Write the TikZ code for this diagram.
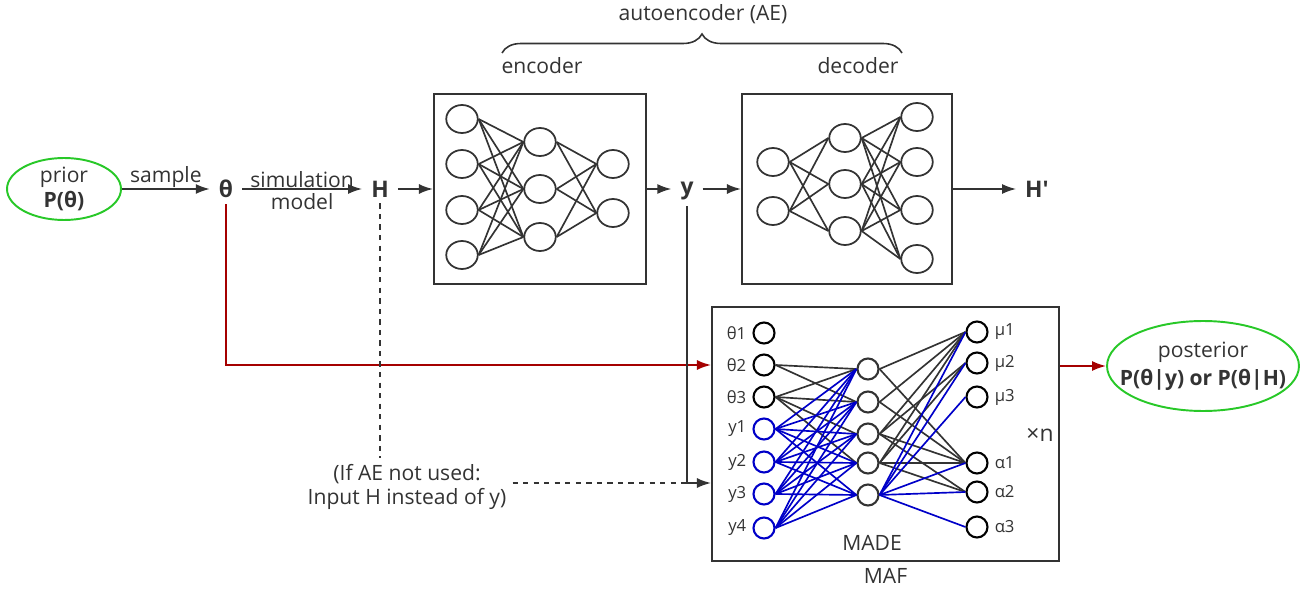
\documentclass[tikz,border=0pt]{standalone}
\usepackage{fontspec}
\setmainfont{Open Sans}
\usepackage{tikz}
\usetikzlibrary{decorations.pathreplacing}
\usetikzlibrary{shapes}
\usetikzlibrary{arrows.meta}
\usetikzlibrary{positioning}
\tikzset{>={Latex[length=2.8mm,width=2mm]}}
\definecolor{linegray}{RGB}{51,51,51}
\definecolor{madeblue}{RGB}{0,0,200}
\definecolor{distgreen}{RGB}{40,200,40}
\definecolor{condred}{RGB}{165,0,0}

\begin{document}
\begin{tikzpicture}[
    x=0.02cm, y=-0.02cm,
    every node/.style={text=linegray, font=\fontsize{12}{14}\selectfont},
    dist/.style={ellipse, draw=distgreen, line width=1.1pt, inner sep=0pt},
    var/.style={font=\fontsize{13}{15}\selectfont\bfseries, inner xsep=5pt},
    netbox/.style={rectangle, draw=linegray, line width=1.2pt},
    neuron/.style={ellipse, draw=linegray, line width=1pt,
        minimum width=0.63cm, minimum height=0.56cm, inner sep=0pt},
    unit/.style={circle, draw=black, line width=1.2pt, minimum size=0.42cm, inner sep=0pt},
    yunit/.style={unit, draw=madeblue},
    hunit/.style={unit, draw=linegray},
    lbl/.style={font=\fontsize{9.5}{11}\selectfont},
    flow/.style={->, draw=linegray, line width=1pt},
    wire/.style={draw=linegray, line width=0.95pt},
    bwire/.style={draw=madeblue, line width=0.95pt}
    ]
\useasboundingbox (0,0) rectangle (1308,591);

%prior and simulation
\node[dist, minimum width=2.28cm, minimum height=1.24cm] (prior) at (64,189) {};
\node[align=center] at (prior) {prior\\\textbf{P(θ)}};
\node[var] (theta) at (226,189) {θ};
\node[var] (H) at (380,189) {H};
\draw[flow] (prior.east) -- node[above, inner sep=0.5pt] {sample} (theta.west);
\draw[flow] (theta.east) -- node[above, inner sep=0.5pt] {simulation}
    node[below, inner sep=2pt] {model} (H.west);

%autoencoder
\coordinate (braceL) at (502,53);
\coordinate (braceR) at (902,53);
\draw[linegray, line width=0.9pt, decorate, decoration={brace, amplitude=0.38cm}] (braceL) -- (braceR);
\node at (703,14) {autoencoder (AE)};
\node at (542,66) {encoder};
\node at (858,66) {decoder};

\node[netbox, minimum width=4.24cm, minimum height=3.8cm] (enc) at (540,189) {};
\node[netbox, minimum width=4.2cm, minimum height=3.8cm] (dec) at (847,189) {};
\node[var] (y) at (687,191) {y};
\node[var] (Hp) at (1037,189) {H\textquotesingle};
\draw[flow] (H.east) -- (enc.west);
\draw[flow] (enc.east) -- (enc.east -| y.west);
\draw[flow] (y.east |- dec.west) -- (dec.west);
\draw[flow] (dec.east) -- (dec.east -| Hp.west);

%encoder layers
\foreach \i/\yy in {1/119,2/164,3/210,4/255} \node[neuron] (e1\i) at (462,\yy) {};
\foreach \i/\yy in {1/142,2/189,3/237} \node[neuron] (e2\i) at (540,\yy) {};
\foreach \i/\yy in {1/164,2/213} \node[neuron] (e3\i) at (613,\yy) {};
\foreach \i in {1,...,4} \foreach \j in {1,2,3} \draw[wire] (e1\i.east) -- (e2\j.west);
\foreach \i in {1,2,3} \foreach \j in {1,2} \draw[wire] (e2\i.east) -- (e3\j.west);

%decoder layers
\foreach \i/\yy in {1/162,2/211} \node[neuron] (d1\i) at (773,\yy) {};
\foreach \i/\yy in {1/138,2/184,3/231} \node[neuron] (d2\i) at (845,\yy) {};
\foreach \i/\yy in {1/117,2/162,3/210,4/259} \node[neuron] (d3\i) at (917,\yy) {};
\foreach \i in {1,2} \foreach \j in {1,2,3} \draw[wire] (d1\i.east) -- (d2\j.west);
\foreach \i in {1,2,3} \foreach \j in {1,...,4} \draw[wire] (d2\i.east) -- (d3\j.west);

%MAF block
\node[netbox, minimum width=6.94cm, minimum height=5.08cm] (maf) at (885.5,434) {};
\node[below=0pt of maf] {MAF};
\node at (872,543) {MADE};
\node[font=\fontsize{13}{15}\selectfont] at (1040,435) {×n};

\foreach \i/\yy in {1/333,2/365,3/397} {
    \node[unit] (t\i) at (764,\yy) {};
    \node[lbl, left=0pt of t\i] {θ\i};
}
\foreach \i/\yy in {1/429,2/462,3/494,4/528} {
    \node[yunit] (y\i) at (764,\yy) {};
    \node[lbl, left=0pt of y\i] {y\i};
}
\foreach \i/\yy in {1/369,2/402,3/434,4/463,5/495} \node[hunit] (h\i) at (868,\yy) {};
\foreach \i/\yy in {1/332,2/363,3/397} {
    \node[unit] (mu\i) at (977,\yy) {};
    \node[lbl, right=0pt of mu\i] {μ\i};
}
\foreach \i/\yy in {1/463,2/492,3/527} {
    \node[unit] (al\i) at (977,\yy) {};
    \node[lbl, right=0pt of al\i] {α\i};
}

%MADE connections
\foreach \j in {1,2} \draw[wire] (t2.east) -- (h\j.west);
\foreach \j in {1,...,4} \draw[wire] (t3.east) -- (h\j.west);
\foreach \i in {1,...,4} \foreach \j in {1,...,5} \draw[bwire] (y\i.east) -- (h\j.west);
\foreach \j in {1,...,4} \draw[wire] (h\j.east) -- (mu1.west);
\foreach \j in {3,4} \draw[wire] (h\j.east) -- (mu2.west);
\foreach \j in {1,...,4} \draw[wire] (h\j.east) -- (al1.west);
\foreach \j in {3,4} \draw[wire] (h\j.east) -- (al2.west);
\foreach \k in {mu1,mu2,mu3,al1,al2,al3} \draw[bwire] (h5.east) -- (\k.west);

%inputs of the flow
\coordinate (join) at (687,483);
\node[align=center] (note) at (407,487) {(If AE not used:\\Input H instead of y)};
\draw[flow, draw=condred] (theta.south) |- (maf.west |- t2);
\draw[flow] (y.south) -- (join) -- (join -| maf.west);
\draw[wire, dashed] (H.south) -- (H.south |- note.north);
\draw[wire, dashed] (note.east |- join) -- (join);

%posterior
\node[dist, minimum width=3.84cm, minimum height=1.8cm] (post) at (1203,366) {};
\node[align=center, font=\fontsize{12}{16}\selectfont] at (post) {posterior\\\textbf{P(θ|y) or P(θ|H)}};
\draw[flow, draw=condred] (maf.east |- post) -- (post.west);
\end{tikzpicture}
\end{document}
